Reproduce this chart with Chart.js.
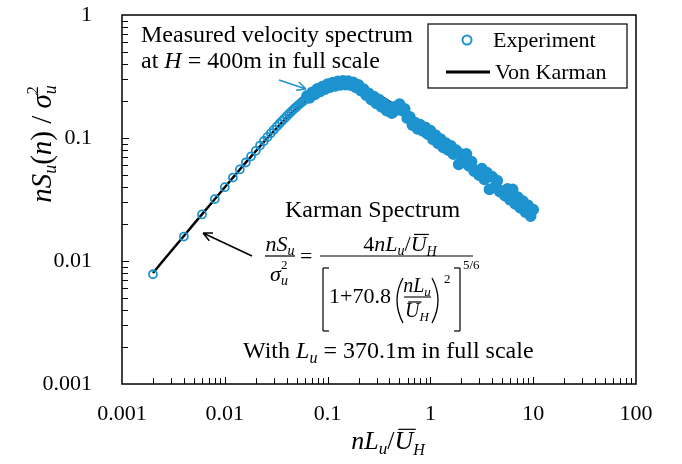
<!DOCTYPE html>
<html>
<head>
<meta charset="utf-8">
<script src="https://cdn.jsdelivr.net/npm/chart.js@4.4.1/dist/chart.umd.min.js"></script>
<style>
  body { margin: 0; background: #fff; }
  #wrap { width: 682px; height: 464px; }
</style>
</head>
<body>
<div id="wrap"><canvas id="spectrumChart" width="682" height="464"></canvas></div>
<script>
// Measured spectrum (reduced frequency / normalised spectrum)
const expX = [
  0.002, 0.004, 0.006, 0.008, 0.010, 0.012, 0.014, 0.016, 0.018, 0.020,
  0.022, 0.024, 0.026, 0.028, 0.030, 0.032, 0.034, 0.036, 0.038, 0.040,
  0.042, 0.044, 0.046, 0.048, 0.050, 0.052, 0.054, 0.056, 0.058, 0.060,
  0.0631, 0.0668, 0.0708, 0.0750, 0.0794, 0.0841, 0.0891, 0.0944, 0.1, 0.1059,
  0.1122, 0.1189, 0.1259, 0.1334, 0.1413, 0.1496, 0.1585, 0.1679, 0.1778, 0.1884,
  0.1995, 0.2113, 0.2239, 0.2371, 0.2512, 0.2661, 0.2818, 0.2985, 0.3162, 0.3350,
  0.3548, 0.3758, 0.3981, 0.4217, 0.4467, 0.4732, 0.5012, 0.5309, 0.5623, 0.5957,
  0.6310, 0.6683, 0.7079, 0.7499, 0.7943, 0.8414, 0.8913, 0.9441, 1.0, 1.059,
  1.122, 1.189, 1.259, 1.334, 1.413, 1.496, 1.585, 1.679, 1.778, 1.884,
  1.995, 2.113, 2.239, 2.371, 2.512, 2.661, 2.818, 2.985, 3.162, 3.350,
  3.548, 3.758, 3.981, 4.217, 4.467, 4.732, 5.012, 5.309, 5.623, 5.957,
  6.310, 6.683, 7.079, 7.499, 7.943, 8.414, 8.913, 9.441, 10.0
];
const expY = [
  0.0078, 0.0158, 0.0239, 0.0319, 0.0398, 0.0477, 0.0555, 0.0632, 0.0709, 0.0786,
  0.0868, 0.0945, 0.1020, 0.1094, 0.1166, 0.1237, 0.1306, 0.1373, 0.1439, 0.1505,
  0.1567, 0.1628, 0.1686, 0.1744, 0.1797, 0.1851, 0.1902, 0.1952, 0.2000, 0.2046,
  0.2199, 0.2120, 0.2346, 0.2261, 0.2503, 0.2390, 0.2620, 0.2502, 0.2744, 0.2592,
  0.2812, 0.2657, 0.2883, 0.2705, 0.2906, 0.2713, 0.2900, 0.2692, 0.2829, 0.2585,
  0.2705, 0.2424, 0.2495, 0.2237, 0.2302, 0.2050, 0.2170, 0.1910, 0.2046, 0.1792,
  0.1910, 0.1674, 0.1783, 0.1593, 0.1792, 0.1697, 0.1886, 0.1681, 0.1721, 0.1449,
  0.1483, 0.1275, 0.1334, 0.1187, 0.1285, 0.1143, 0.1222, 0.1075, 0.1149, 0.0975,
  0.1054, 0.0905, 0.0978, 0.0839, 0.0907, 0.0796, 0.0861, 0.0739, 0.0798, 0.0611,
  0.0740, 0.0642, 0.0743, 0.0595, 0.0642, 0.0539, 0.0543, 0.0499, 0.0564, 0.0462,
  0.0523, 0.0382, 0.0484, 0.0397, 0.0449, 0.0367, 0.0370, 0.0340, 0.0385, 0.0315,
  0.0382, 0.0292, 0.0330, 0.0270, 0.0306, 0.0250, 0.0283, 0.0232, 0.0262
];

// Von Karman curve
const karmanX = [
  0.002, 0.00251, 0.00316, 0.00398, 0.00501, 0.00631, 0.00794, 0.01,
  0.0126, 0.0158, 0.02, 0.0251, 0.0316, 0.0398, 0.0501, 0.0631, 0.0794, 0.1,
  0.126, 0.158, 0.2, 0.251, 0.316, 0.398, 0.501, 0.631, 0.794, 1,
  1.26, 1.58, 2, 2.51, 3.16, 3.98, 5.01, 6.31, 7.94, 10
];
const karmanY = [
  0.00798, 0.01004, 0.01264, 0.01591, 0.02002, 0.02518, 0.03166, 0.03978,
  0.04989, 0.06247, 0.07798, 0.0969, 0.1195, 0.1458, 0.1749, 0.2052, 0.2335, 0.2561,
  0.2690, 0.2706, 0.2614, 0.2438, 0.2218, 0.1977, 0.1740, 0.1518, 0.1315, 0.1136,
  0.0978, 0.0841, 0.0723, 0.0621, 0.0533, 0.0457, 0.0392, 0.0337, 0.0289, 0.0248
];

const xTickLabels = ["0.001", "0.01", "0.1", "1", "10", "100"];
const yTickLabels = ["0.001", "0.01", "0.1", "1"];

const BLUE = "#1d93cf";
const SERIF = '"Liberation Serif", "Times New Roman", serif';
const DENSE_FROM = 30; // points from here on sit so close they merge into a band

function font(size, italic) {
  return (italic ? "italic " : "") + size + "px " + SERIF;
}

// draw a run of text pieces (sub/superscripts, overbars) starting at x
function drawRun(ctx, x, y, parts, align) {
  let total = 0;
  parts.forEach(function (p) {
    ctx.font = font(p.s, p.i);
    p.w = ctx.measureText(p.t).width;
    if (!p.keep) total += p.w;
  });
  let cx = align === "center" ? x - total / 2 : x;
  parts.forEach(function (p) {
    const py = y + (p.dy || 0);
    ctx.font = font(p.s, p.i);
    ctx.fillText(p.t, cx, py);
    if (p.bar) ctx.fillRect(cx + p.s * 0.15, py - p.s * 0.78, p.w - p.s * 0.05, 1.2);
    if (!p.keep) cx += p.w;
  });
  return total;
}

function arrow(ctx, x1, y1, x2, y2, color) {
  const ang = Math.atan2(y2 - y1, x2 - x1);
  ctx.strokeStyle = color;
  ctx.lineWidth = 1.5;
  ctx.beginPath();
  ctx.moveTo(x1, y1);
  ctx.lineTo(x2, y2);
  [-1, 1].forEach(function (s) {
    ctx.moveTo(x2, y2);
    ctx.lineTo(x2 - 10 * Math.cos(ang + s * 0.45), y2 - 10 * Math.sin(ang + s * 0.45));
  });
  ctx.stroke();
}

function line(ctx, x1, y1, x2, y2, w) {
  ctx.lineWidth = w || 1.2;
  ctx.beginPath();
  ctx.moveTo(x1, y1);
  ctx.lineTo(x2, y2);
  ctx.stroke();
}

const decorPlugin = {
  id: "decor",
  afterDraw: function (chart) {
    const ctx = chart.ctx;
    const a = chart.chartArea;
    const xs = chart.scales.x;
    const ys = chart.scales.y;
    ctx.save();
    ctx.fillStyle = "#000";
    ctx.strokeStyle = "#000";
    ctx.textAlign = "left";
    ctx.textBaseline = "alphabetic";

    // frame
    ctx.lineWidth = 1.5;
    ctx.strokeRect(a.left, a.top, a.right - a.left, a.bottom - a.top);

    // inside log ticks
    for (let e = -3; e < 2; e++) {
      for (let m = 1; m < 10; m++) {
        const v = m * Math.pow(10, e);
        if (v <= 0.001 || v >= 100) continue;
        const px = Math.round(xs.getPixelForValue(v)) + 0.5;
        line(ctx, px, a.bottom, px, a.bottom - (m === 1 ? 7 : 6), 1);
      }
    }
    for (let e = -3; e < 0; e++) {
      for (let m = 1; m < 10; m++) {
        const v = m * Math.pow(10, e);
        if (v <= 0.001 || v >= 1) continue;
        const py = Math.round(ys.getPixelForValue(v)) + 0.5;
        line(ctx, a.left, py, a.left + (m === 1 ? 7 : 6), py, 1);
      }
    }

    // axis titles
    ctx.save();
    ctx.translate(41, 144);
    ctx.rotate(-Math.PI / 2);
    drawRun(ctx, 0, 10, [
      { t: "nS", s: 29, i: 1 }, { t: "u", s: 18, i: 1, dy: 5 },
      { t: "(", s: 29 }, { t: "n", s: 29, i: 1 }, { t: ")", s: 29 },
      { t: " / ", s: 29 }, { t: "σ", s: 29, i: 1 },
      { t: "2", s: 16, dy: -13, keep: 1 }, { t: "u", s: 18, i: 1, dy: 5 }
    ], "center");
    ctx.restore();

    drawRun(ctx, 388, 449, [
      { t: "nL", s: 26, i: 1 }, { t: "u", s: 17, i: 1, dy: 5 },
      { t: "/", s: 26 }, { t: "U", s: 26, i: 1, bar: 1 }, { t: "H", s: 16, i: 1, dy: 6 }
    ], "center");

    // legend
    ctx.fillStyle = "#fff";
    ctx.fillRect(428, 24, 199, 64);
    ctx.fillStyle = "#000";
    ctx.lineWidth = 1.2;
    ctx.strokeRect(428, 24, 199, 64);
    ctx.strokeStyle = BLUE;
    ctx.lineWidth = 2;
    ctx.beginPath();
    ctx.arc(467, 40, 4.5, 0, Math.PI * 2);
    ctx.stroke();
    ctx.strokeStyle = "#000";
    line(ctx, 446, 72, 490, 72, 3);
    ctx.font = font(22);
    ctx.fillText("Experiment", 493, 47);
    ctx.fillText("Von Karman", 495, 79);

    // measured-spectrum note
    ctx.font = font(24);
    ctx.fillText("Measured velocity spectrum", 141, 42);
    drawRun(ctx, 141, 68, [
      { t: "at ", s: 24 }, { t: "H", s: 24, i: 1 }, { t: " = 400m in full scale", s: 24 }
    ]);
    arrow(ctx, 279, 80, 306, 89, BLUE);

    // Karman spectrum formula
    ctx.fillStyle = "#000";
    ctx.font = font(24);
    ctx.fillText("Karman Spectrum", 285, 217);
    arrow(ctx, 252, 256, 203, 233, "#000");

    drawRun(ctx, 280, 251, [{ t: "nS", s: 22, i: 1 }, { t: "u", s: 14, i: 1, dy: 4 }], "center");
    line(ctx, 265, 256, 295, 256, 1.2);
    drawRun(ctx, 279, 281, [
      { t: "σ", s: 22, i: 1 }, { t: "2", s: 13, dy: -12, keep: 1 }, { t: "u", s: 14, i: 1, dy: 4 }
    ], "center");
    ctx.font = font(22);
    ctx.fillText("=", 300, 263);

    drawRun(ctx, 400, 251, [
      { t: "4", s: 22 }, { t: "nL", s: 22, i: 1 }, { t: "u", s: 14, i: 1, dy: 4 },
      { t: "/", s: 22 }, { t: "U", s: 22, i: 1, bar: 1 }, { t: "H", s: 14, i: 1, dy: 5 }
    ], "center");
    line(ctx, 320, 256, 473, 256, 1.2);

    // [ 1 + 70.8 ( nLu / UH )^2 ]^(5/6)
    line(ctx, 329, 268, 323, 268, 1.2);
    line(ctx, 323, 268, 323, 331, 1.2);
    line(ctx, 323, 331, 329, 331, 1.2);
    ctx.font = font(22);
    ctx.fillText("1+70.8", 329, 303);
    ctx.lineWidth = 1.3;
    ctx.beginPath();
    ctx.moveTo(403, 278);
    ctx.quadraticCurveTo(391, 300, 403, 323);
    ctx.moveTo(432, 278);
    ctx.quadraticCurveTo(444, 300, 432, 323);
    ctx.stroke();
    drawRun(ctx, 417, 292, [{ t: "nL", s: 20, i: 1 }, { t: "u", s: 13, i: 1, dy: 4 }], "center");
    line(ctx, 404, 297, 431, 297, 1.1);
    drawRun(ctx, 417, 317, [{ t: "U", s: 20, i: 1, bar: 1 }, { t: "H", s: 13, i: 1, dy: 4 }], "center");
    ctx.font = font(13);
    ctx.fillText("2", 444, 283);
    line(ctx, 454, 268, 460, 268, 1.2);
    line(ctx, 460, 268, 460, 331, 1.2);
    line(ctx, 460, 331, 454, 331, 1.2);
    ctx.fillText("5/6", 463, 269);

    drawRun(ctx, 243, 358, [
      { t: "With ", s: 24 }, { t: "L", s: 24, i: 1 }, { t: "u", s: 16, i: 1, dy: 5 },
      { t: " = 370.1m in full scale", s: 24 }
    ]);

    ctx.restore();
  }
};

const ctx = document.getElementById("spectrumChart").getContext("2d");
const spectrumChart = new Chart(ctx, {
  type: "scatter",
  data: {
    datasets: [
      {
        label: "Experiment",
        data: expX.map(function (x, i) { return { x: x, y: expY[i] }; }),
        showLine: false,
        pointRadius: function (c) { return c.dataIndex >= DENSE_FROM ? 5 : 4; },
        pointBorderWidth: 1.8,
        pointBorderColor: BLUE,
        pointBackgroundColor: function (c) {
          return c.dataIndex >= DENSE_FROM ? BLUE : "rgba(0,0,0,0)";
        },
        order: 0,
      },
      {
        label: "Von Karman",
        data: karmanX.map(function (x, i) { return { x: x, y: karmanY[i] }; }),
        showLine: true,
        borderColor: "#000",
        borderWidth: 2.5,
        pointRadius: 0,
        cubicInterpolationMode: "monotone",
        order: 1,
      },
    ],
  },
  options: {
    responsive: false,
    animation: false,
    layout: { autoPadding: false, padding: { left: 0, right: 46, top: 15, bottom: 0 } },
    plugins: {
      legend: { display: false },
      tooltip: { enabled: false },
    },
    scales: {
      x: {
        type: "logarithmic",
        min: 0.001,
        max: 100,
        grid: { display: false, drawTicks: false },
        border: { display: false },
        ticks: {
          autoSkip: false,
          maxRotation: 0,
          padding: 17,
          color: "#000",
          font: { family: SERIF, size: 22 },
          callback: function (v) {
            const e = Math.log10(v);
            return Math.abs(e - Math.round(e)) < 1e-6 ? xTickLabels[Math.round(e) + 3] : "";
          },
        },
        afterFit: function (s) { s.height = 80; s.paddingLeft = 0; s.paddingRight = 0; },
      },
      y: {
        type: "logarithmic",
        min: 0.001,
        max: 1,
        grid: { display: false, drawTicks: false },
        border: { display: false },
        ticks: {
          autoSkip: false,
          padding: 30,
          color: "#000",
          font: { family: SERIF, size: 22 },
          callback: function (v) {
            const e = Math.log10(v);
            return Math.abs(e - Math.round(e)) < 1e-6 ? yTickLabels[Math.round(e) + 3] : "";
          },
        },
        afterFit: function (s) { s.width = 122; s.paddingTop = 0; s.paddingBottom = 0; },
      },
    },
  },
  plugins: [decorPlugin],
});
</script>
</body>
</html>
